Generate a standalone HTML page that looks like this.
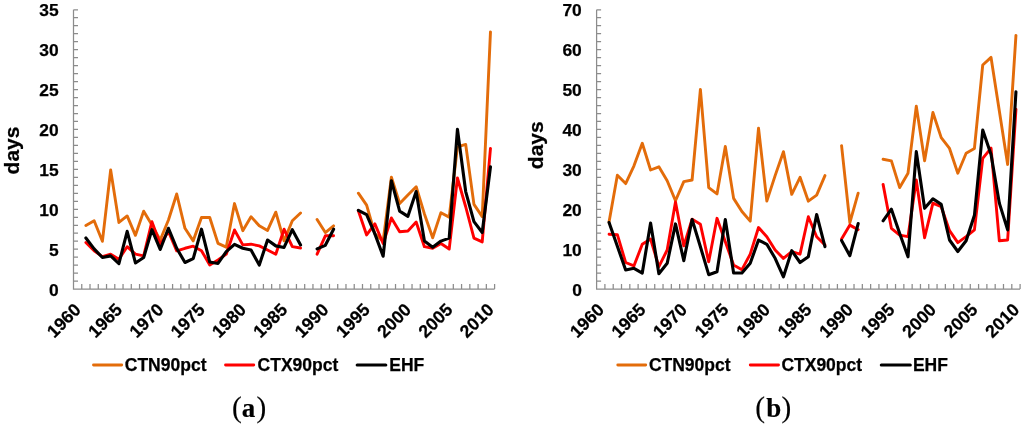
<!DOCTYPE html>
<html><head><meta charset="utf-8"><title>Figure</title>
<style>
html,body{margin:0;padding:0;background:#fff;}
svg{display:block;}
svg text{font-family:"Liberation Sans",sans-serif;font-weight:700;font-size:17.5px;fill:#000;stroke:#000;stroke-width:0.25px;}
svg text.ax{font-size:17.4px;}
svg text.xl{font-size:17.7px;}
svg text.yl{font-size:21px;}
svg text.cap{font-family:"Liberation Serif",serif;font-weight:400;font-size:29.3px;stroke-width:0.15px;}
svg .capb{font-weight:700;font-size:27px;}
</style></head><body>
<svg style="filter:blur(0.35px)" width="1024" height="426" viewBox="0 0 1024 426">
<rect width="1024" height="426" fill="#fff"/>
<path d="M73.50 9.75V289.10H494.60M73.50 289.10h4.5M73.50 281.12h4.5M73.50 273.14h4.5M73.50 265.16h4.5M73.50 257.17h4.5M73.50 249.19h4.5M73.50 241.21h4.5M73.50 233.23h4.5M73.50 225.25h4.5M73.50 217.27h4.5M73.50 209.29h4.5M73.50 201.30h4.5M73.50 193.32h4.5M73.50 185.34h4.5M73.50 177.36h4.5M73.50 169.38h4.5M73.50 161.40h4.5M73.50 153.42h4.5M73.50 145.43h4.5M73.50 137.45h4.5M73.50 129.47h4.5M73.50 121.49h4.5M73.50 113.51h4.5M73.50 105.53h4.5M73.50 97.55h4.5M73.50 89.56h4.5M73.50 81.58h4.5M73.50 73.60h4.5M73.50 65.62h4.5M73.50 57.64h4.5M73.50 49.66h4.5M73.50 41.68h4.5M73.50 33.69h4.5M73.50 25.71h4.5M73.50 17.73h4.5M73.50 9.75h4.5M73.50 289.10v-5.2M81.76 289.10v-5.2M90.01 289.10v-5.2M98.27 289.10v-5.2M106.53 289.10v-5.2M114.78 289.10v-5.2M123.04 289.10v-5.2M131.30 289.10v-5.2M139.55 289.10v-5.2M147.81 289.10v-5.2M156.07 289.10v-5.2M164.33 289.10v-5.2M172.58 289.10v-5.2M180.84 289.10v-5.2M189.10 289.10v-5.2M197.35 289.10v-5.2M205.61 289.10v-5.2M213.87 289.10v-5.2M222.12 289.10v-5.2M230.38 289.10v-5.2M238.64 289.10v-5.2M246.89 289.10v-5.2M255.15 289.10v-5.2M263.41 289.10v-5.2M271.66 289.10v-5.2M279.92 289.10v-5.2M288.18 289.10v-5.2M296.44 289.10v-5.2M304.69 289.10v-5.2M312.95 289.10v-5.2M321.21 289.10v-5.2M329.46 289.10v-5.2M337.72 289.10v-5.2M345.98 289.10v-5.2M354.23 289.10v-5.2M362.49 289.10v-5.2M370.75 289.10v-5.2M379.00 289.10v-5.2M387.26 289.10v-5.2M395.52 289.10v-5.2M403.77 289.10v-5.2M412.03 289.10v-5.2M420.29 289.10v-5.2M428.55 289.10v-5.2M436.80 289.10v-5.2M445.06 289.10v-5.2M453.32 289.10v-5.2M461.57 289.10v-5.2M469.83 289.10v-5.2M478.09 289.10v-5.2M486.34 289.10v-5.2M494.60 289.10v-5.2" fill="none" stroke="#8c8c8c" stroke-width="1.25"/>
<text x="58.70" y="295.55" text-anchor="end" class="ax">0</text>
<text x="58.70" y="255.64" text-anchor="end" class="ax">5</text>
<text x="58.70" y="215.74" text-anchor="end" class="ax">10</text>
<text x="58.70" y="175.83" text-anchor="end" class="ax">15</text>
<text x="58.70" y="135.92" text-anchor="end" class="ax">20</text>
<text x="58.70" y="96.01" text-anchor="end" class="ax">25</text>
<text x="58.70" y="56.11" text-anchor="end" class="ax">30</text>
<text x="58.70" y="16.20" text-anchor="end" class="ax">35</text>
<text transform="translate(82.03 310.90) rotate(-45)" text-anchor="end" class="xl">1960</text>
<text transform="translate(123.31 310.90) rotate(-45)" text-anchor="end" class="xl">1965</text>
<text transform="translate(164.60 310.90) rotate(-45)" text-anchor="end" class="xl">1970</text>
<text transform="translate(205.88 310.90) rotate(-45)" text-anchor="end" class="xl">1975</text>
<text transform="translate(247.17 310.90) rotate(-45)" text-anchor="end" class="xl">1980</text>
<text transform="translate(288.45 310.90) rotate(-45)" text-anchor="end" class="xl">1985</text>
<text transform="translate(329.73 310.90) rotate(-45)" text-anchor="end" class="xl">1990</text>
<text transform="translate(371.02 310.90) rotate(-45)" text-anchor="end" class="xl">1995</text>
<text transform="translate(412.30 310.90) rotate(-45)" text-anchor="end" class="xl">2000</text>
<text transform="translate(453.59 310.90) rotate(-45)" text-anchor="end" class="xl">2005</text>
<text transform="translate(494.87 310.90) rotate(-45)" text-anchor="end" class="xl">2010</text>
<path d="M85.89 225.51L94.14 220.80L102.40 241.33L110.66 170.01L118.91 222.48L127.17 215.93L135.43 235.34L143.68 211.14L151.94 225.11L160.20 239.97L168.45 220.00L176.71 193.97L184.97 228.31L193.22 240.85L201.48 217.53L209.74 217.53L218.00 243.32L226.25 247.15L234.51 203.55L242.77 230.70L251.02 216.65L259.28 225.83L267.54 230.46L275.79 212.18L284.05 240.85L292.31 220.80L300.56 212.98M317.08 219.52L325.33 232.54L333.59 225.83M358.36 193.17L366.62 205.15L374.88 233.90L383.13 241.09L391.39 177.20L399.65 203.55L407.90 195.01L416.16 186.78L424.42 213.93L432.67 237.81L440.93 212.66L449.19 217.13L457.44 146.85L465.70 144.46L473.96 204.35L482.21 216.65L490.47 31.86" fill="none" stroke="#E36C0A" stroke-width="2.9" stroke-linejoin="round" stroke-linecap="round"/>
<path d="M85.89 242.52L94.14 250.83L102.40 256.66L110.66 254.18L118.91 259.21L127.17 246.68L135.43 254.18L143.68 255.86L151.94 221.68L160.20 244.28L168.45 231.50L176.71 250.83L184.97 248.27L193.22 246.20L201.48 250.67L209.74 265.04L218.00 260.01L226.25 254.18L234.51 229.99L242.77 244.84L251.02 244.20L259.28 245.88L267.54 250.03L275.79 254.18L284.05 229.19L292.31 246.68L300.56 248.03M317.08 254.18L325.33 235.82L333.59 235.82M358.36 210.74L366.62 234.94L374.88 223.84L383.13 243.48L391.39 217.93L399.65 231.74L407.90 230.94L416.16 222.08L424.42 246.68L432.67 248.27L440.93 243.48L449.19 249.07L457.44 178.00L465.70 206.75L473.96 238.13L482.21 241.88L490.47 148.45" fill="none" stroke="#FF0000" stroke-width="2.9" stroke-linejoin="round" stroke-linecap="round"/>
<path d="M85.89 237.97L94.14 248.83L102.40 257.54L110.66 255.86L118.91 263.69L127.17 231.34L135.43 262.97L143.68 257.54L151.94 229.67L160.20 249.47L168.45 228.31L176.71 248.27L184.97 262.49L193.22 258.65L201.48 229.19L209.74 262.01L218.00 263.45L226.25 251.71L234.51 244.28L242.77 248.27L251.02 250.03L259.28 265.04L267.54 239.97L275.79 245.88L284.05 247.47L292.31 229.67L300.56 245.00M317.08 248.83L325.33 245.32L333.59 229.19M358.36 210.34L366.62 214.73L374.88 233.90L383.13 256.26L391.39 180.71L399.65 211.14L407.90 216.33L416.16 191.57L424.42 241.09L432.67 247.23L440.93 241.09L449.19 238.13L457.44 129.29L465.70 191.57L473.96 221.68L482.21 232.54L490.47 166.82" fill="none" stroke="#000000" stroke-width="3.1" stroke-linejoin="round" stroke-linecap="round"/>
<path d="M93.5 365H121.7" stroke="#E36C0A" stroke-width="2.9" stroke-linecap="round"/>
<text x="124.8" y="371.3">CTN90pct</text>
<path d="M225.55 365H253.75" stroke="#FF0000" stroke-width="2.9" stroke-linecap="round"/>
<text x="257.6" y="371.3">CTX90pct</text>
<path d="M357.2 365H385.8" stroke="#000000" stroke-width="3.1" stroke-linecap="round"/>
<text x="389.3" y="371.3">EHF</text>
<text transform="translate(18.60 150.50) rotate(-90)" text-anchor="middle" class="yl">days</text>
<text x="249.1" y="417" text-anchor="middle" class="cap">(<tspan class="capb" dx="0.1">a</tspan><tspan dx="1.1">)</tspan></text>
<path d="M596.60 9.75V289.10H1020.10M596.60 289.10h4.5M596.60 281.12h4.5M596.60 273.14h4.5M596.60 265.16h4.5M596.60 257.17h4.5M596.60 249.19h4.5M596.60 241.21h4.5M596.60 233.23h4.5M596.60 225.25h4.5M596.60 217.27h4.5M596.60 209.29h4.5M596.60 201.30h4.5M596.60 193.32h4.5M596.60 185.34h4.5M596.60 177.36h4.5M596.60 169.38h4.5M596.60 161.40h4.5M596.60 153.42h4.5M596.60 145.43h4.5M596.60 137.45h4.5M596.60 129.47h4.5M596.60 121.49h4.5M596.60 113.51h4.5M596.60 105.53h4.5M596.60 97.55h4.5M596.60 89.56h4.5M596.60 81.58h4.5M596.60 73.60h4.5M596.60 65.62h4.5M596.60 57.64h4.5M596.60 49.66h4.5M596.60 41.68h4.5M596.60 33.69h4.5M596.60 25.71h4.5M596.60 17.73h4.5M596.60 9.75h4.5M596.60 289.10v-5.2M604.90 289.10v-5.2M613.21 289.10v-5.2M621.51 289.10v-5.2M629.82 289.10v-5.2M638.12 289.10v-5.2M646.42 289.10v-5.2M654.73 289.10v-5.2M663.03 289.10v-5.2M671.34 289.10v-5.2M679.64 289.10v-5.2M687.94 289.10v-5.2M696.25 289.10v-5.2M704.55 289.10v-5.2M712.85 289.10v-5.2M721.16 289.10v-5.2M729.46 289.10v-5.2M737.77 289.10v-5.2M746.07 289.10v-5.2M754.37 289.10v-5.2M762.68 289.10v-5.2M770.98 289.10v-5.2M779.29 289.10v-5.2M787.59 289.10v-5.2M795.89 289.10v-5.2M804.20 289.10v-5.2M812.50 289.10v-5.2M820.81 289.10v-5.2M829.11 289.10v-5.2M837.41 289.10v-5.2M845.72 289.10v-5.2M854.02 289.10v-5.2M862.33 289.10v-5.2M870.63 289.10v-5.2M878.93 289.10v-5.2M887.24 289.10v-5.2M895.54 289.10v-5.2M903.85 289.10v-5.2M912.15 289.10v-5.2M920.45 289.10v-5.2M928.76 289.10v-5.2M937.06 289.10v-5.2M945.36 289.10v-5.2M953.67 289.10v-5.2M961.97 289.10v-5.2M970.28 289.10v-5.2M978.58 289.10v-5.2M986.88 289.10v-5.2M995.19 289.10v-5.2M1003.49 289.10v-5.2M1011.80 289.10v-5.2M1020.10 289.10v-5.2" fill="none" stroke="#8c8c8c" stroke-width="1.25"/>
<text x="581.80" y="295.55" text-anchor="end" class="ax">0</text>
<text x="581.80" y="255.64" text-anchor="end" class="ax">10</text>
<text x="581.80" y="215.74" text-anchor="end" class="ax">20</text>
<text x="581.80" y="175.83" text-anchor="end" class="ax">30</text>
<text x="581.80" y="135.92" text-anchor="end" class="ax">40</text>
<text x="581.80" y="96.01" text-anchor="end" class="ax">50</text>
<text x="581.80" y="56.11" text-anchor="end" class="ax">60</text>
<text x="581.80" y="16.20" text-anchor="end" class="ax">70</text>
<text transform="translate(605.15 310.90) rotate(-45)" text-anchor="end" class="xl">1960</text>
<text transform="translate(646.67 310.90) rotate(-45)" text-anchor="end" class="xl">1965</text>
<text transform="translate(688.19 310.90) rotate(-45)" text-anchor="end" class="xl">1970</text>
<text transform="translate(729.71 310.90) rotate(-45)" text-anchor="end" class="xl">1975</text>
<text transform="translate(771.23 310.90) rotate(-45)" text-anchor="end" class="xl">1980</text>
<text transform="translate(812.75 310.90) rotate(-45)" text-anchor="end" class="xl">1985</text>
<text transform="translate(854.27 310.90) rotate(-45)" text-anchor="end" class="xl">1990</text>
<text transform="translate(895.79 310.90) rotate(-45)" text-anchor="end" class="xl">1995</text>
<text transform="translate(937.31 310.90) rotate(-45)" text-anchor="end" class="xl">2000</text>
<text transform="translate(978.83 310.90) rotate(-45)" text-anchor="end" class="xl">2005</text>
<text transform="translate(1020.35 310.90) rotate(-45)" text-anchor="end" class="xl">2010</text>
<path d="M609.06 221.92L617.36 175.20L625.66 183.59L633.97 165.82L642.27 143.26L650.58 170.01L658.88 166.82L667.18 180.79L675.49 200.76L683.79 181.59L692.10 180.00L700.40 89.36L708.70 187.58L717.01 193.97L725.31 146.45L733.61 198.36L741.92 211.54L750.22 221.12L758.53 128.09L766.83 201.16L775.13 175.60L783.44 151.65L791.74 194.37L800.05 177.32L808.35 201.16L816.65 195.17L824.96 175.60M841.57 145.66L849.87 222.72L858.17 193.17M883.09 159.23L891.39 160.83L899.69 187.58L908.00 173.21L916.30 106.13L924.60 160.83L932.91 112.52L941.21 137.67L949.52 148.45L957.82 173.21L966.12 153.24L974.43 148.45L982.73 65.00L991.04 57.41L999.34 110.92L1007.64 164.42L1015.95 35.45" fill="none" stroke="#E36C0A" stroke-width="2.9" stroke-linejoin="round" stroke-linecap="round"/>
<path d="M609.06 234.30L617.36 234.70L625.66 262.49L633.97 265.84L642.27 244.28L650.58 239.09L658.88 266.64L667.18 249.99L675.49 201.96L683.79 245.88L692.10 219.12L700.40 224.32L708.70 261.85L717.01 218.33L725.31 241.68L733.61 265.04L741.92 269.67L750.22 254.18L758.53 227.51L766.83 236.69L775.13 249.99L783.44 258.49L791.74 251.67L800.05 254.18L808.35 216.73L816.65 236.69L824.96 245.08M841.57 239.09L849.87 225.11L858.17 229.67M883.09 184.39L891.39 228.31L899.69 235.10L908.00 236.69L916.30 180.00L924.60 237.69L932.91 203.15L941.21 206.75L949.52 230.70L957.82 242.68L966.12 236.69L974.43 229.91L982.73 158.43L991.04 148.05L999.34 240.81L1007.64 240.01L1015.95 109.32" fill="none" stroke="#FF0000" stroke-width="2.9" stroke-linejoin="round" stroke-linecap="round"/>
<path d="M609.06 222.52L617.36 246.28L625.66 269.99L633.97 268.32L642.27 273.03L650.58 223.12L658.88 273.67L667.18 263.33L675.49 223.92L683.79 260.65L692.10 219.52L700.40 246.68L708.70 274.67L717.01 271.67L725.31 219.52L733.61 273.03L741.92 273.03L750.22 263.33L758.53 240.01L766.83 244.28L775.13 258.33L783.44 276.82L791.74 250.67L800.05 262.49L808.35 256.66L816.65 214.49L824.96 246.68M841.57 240.49L849.87 255.66L858.17 223.52M883.09 220.84L891.39 209.14L899.69 233.50L908.00 256.82L916.30 151.65L924.60 208.34L932.91 198.76L941.21 204.35L949.52 240.01L957.82 251.51L966.12 240.81L974.43 215.33L982.73 130.08L991.04 154.44L999.34 203.15L1007.64 229.91L1015.95 91.75" fill="none" stroke="#000000" stroke-width="3.1" stroke-linejoin="round" stroke-linecap="round"/>
<path d="M617.8 365H645.7" stroke="#E36C0A" stroke-width="2.9" stroke-linecap="round"/>
<text x="648.9" y="371.3">CTN90pct</text>
<path d="M750.3 365H778.5" stroke="#FF0000" stroke-width="2.9" stroke-linecap="round"/>
<text x="781.4" y="371.3">CTX90pct</text>
<path d="M881.3 365H910.3" stroke="#000000" stroke-width="3.1" stroke-linecap="round"/>
<text x="912.9" y="371.3">EHF</text>
<text transform="translate(542.70 145.20) rotate(-90)" text-anchor="middle" class="yl">days</text>
<text x="773.2" y="417" text-anchor="middle" class="cap">(<tspan class="capb" dx="1.2">b</tspan><tspan dx="0.3">)</tspan></text>
</svg>
</body></html>
